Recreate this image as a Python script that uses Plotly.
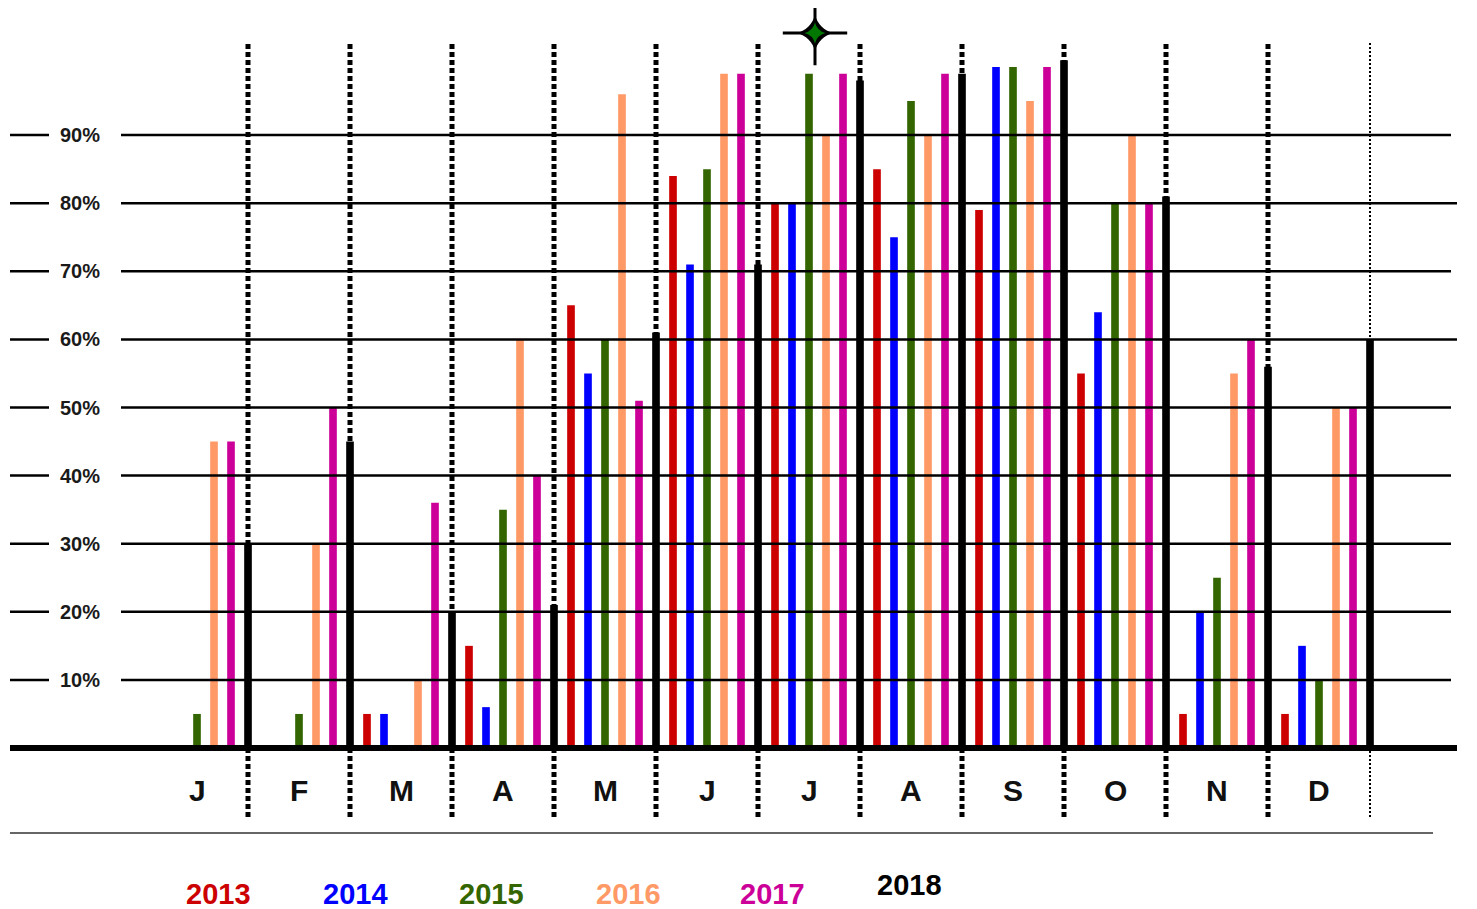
import plotly.graph_objects as go

# ---------------- data ----------------
months = ["J", "F", "M", "A", "M", "J", "J", "A", "S", "O", "N", "D"]
years = ["2013", "2014", "2015", "2016", "2017", "2018"]
colors = ["#cc0000", "#0000ff", "#336600", "#ff9966", "#cc0099", "#000000"]

v2013 = [None, None, 5, 15, 65, 84, 80, 85, 79, 55, 5, 5]
v2014 = [None, None, 5, 6, 55, 71, 80, 75, 100, 64, 20, 15]
v2015 = [5, 5, None, 35, 60, 85, 99, 95, 100, 80, 25, 10]
v2016 = [45, 30, 10, 60, 96, 99, 90, 90, 95, 90, 55, 50]
v2017 = [45, 50, 36, 40, 51, 99, 99, 99, 100, 80, 60, 50]
v2018 = [30, 45, 20, 21, 61, 71, 98, 99, 101, 81, 56, 60]
series = [v2013, v2014, v2015, v2016, v2017, v2018]

grid_values = [10, 20, 30, 40, 50, 60, 70, 80, 90]
grid_labels = ["10%", "20%", "30%", "40%", "50%", "60%", "70%", "80%", "90%"]

# ---------------- pixel helpers (layout only) ----------------
PLOT_TOP, PLOT_BOTTOM = 20, 840

def px_x(p):
    return (p - 163) / 17.0

def px_y(p):
    return (748 - p) / 6.81

def paper_y(p):
    return (PLOT_BOTTOM - p) / (PLOT_BOTTOM - PLOT_TOP)

fig = go.Figure()

for k, (yr, col, vals) in enumerate(zip(years, colors, series)):
    xs = [m * 6 + k for m in range(len(months))]
    fig.add_trace(go.Bar(
        x=xs, y=vals, marker=dict(color=col, line=dict(width=0)),
        width=0.45, name=yr, hoverinfo="skip"))

shapes = []
grid_ends = {60: 1472, 80: 1463}
for v in grid_values:
    shapes.append(dict(type="line", xref="x", yref="y", x0=px_x(10), x1=px_x(49),
                       y0=v, y1=v, line=dict(color="black", width=2.5)))
    shapes.append(dict(type="line", xref="x", yref="y", x0=px_x(121),
                       x1=px_x(grid_ends.get(v, 1451)),
                       y0=v, y1=v, line=dict(color="black", width=2.5)))

for m in range(len(months)):
    xs = m * 6 + 5
    last = (m == len(months) - 1)
    shapes.append(dict(type="line", xref="x", yref="y", x0=xs, x1=xs,
                       y0=px_y(817), y1=px_y(43),
                       line=dict(color="black", width=2 if last else 5,
                                 dash="2px,2px" if last else "5px,3px")))

shapes.append(dict(type="line", xref="x", yref="y", x0=px_x(9), x1=px_x(1458),
                   y0=0, y1=0, line=dict(color="black", width=6)))
shapes.append(dict(type="line", xref="x", yref="y", x0=px_x(10), x1=px_x(1433),
                   y0=px_y(833), y1=px_y(833), line=dict(color="#333333", width=1.5)))

annotations = []
for v, lab in zip(grid_values, grid_labels):
    annotations.append(dict(x=px_x(102), y=v, xref="x", yref="y", text="<b>%s</b>" % lab,
                            showarrow=False, xanchor="right", yanchor="middle",
                            font=dict(family="Liberation Sans", size=20, color="#1a1a1a")))

for m, lab in enumerate(months):
    annotations.append(dict(x=m * 6 + 2.0, y=px_y(790), xref="x", yref="y",
                            text="<b>%s</b>" % lab,
                            showarrow=False, xanchor="center", yanchor="middle",
                            font=dict(family="Liberation Sans", size=30, color="#111111")))

legend_x = [218, 355, 491, 628, 772, 909]
legend_y = [894, 894, 894, 894, 894, 885]
for yr, col, lx, ly in zip(years, colors, legend_x, legend_y):
    annotations.append(dict(x=px_x(lx), y=paper_y(ly), xref="x", yref="paper",
                            text="<b>%s</b>" % yr,
                            showarrow=False, xanchor="center", yanchor="middle",
                            font=dict(family="Liberation Sans", size=29, color=col)))

# four-pointed star ornament at the top
sx, sy = [px_x(815)], [px_y(33)]
fig.add_trace(go.Scatter(x=sx, y=sy, mode="markers",
                         marker=dict(symbol="cross-thin", size=46,
                                     line=dict(color="black", width=3)),
                         hoverinfo="skip", cliponaxis=False))
fig.add_trace(go.Scatter(x=sx, y=sy, mode="markers",
                         marker=dict(symbol="star-diamond", size=26, color="black",
                                     line=dict(width=0)),
                         hoverinfo="skip", cliponaxis=False))
fig.add_trace(go.Scatter(x=sx, y=sy, mode="markers",
                         marker=dict(symbol="star-diamond", size=15, color="#007700",
                                     line=dict(width=0)),
                         hoverinfo="skip", cliponaxis=False))

# page body has an 8px margin; size/margins compensate so the plot area
# lands on pixels x 10..1457, y 20..840
fig.update_layout(
    width=1469, height=901,
    margin=dict(l=2, r=20, t=12, b=69),
    plot_bgcolor="white", paper_bgcolor="white",
    showlegend=False, barmode="overlay",
    xaxis=dict(range=[-9, px_x(1457)], visible=False, fixedrange=True),
    yaxis=dict(range=[px_y(PLOT_BOTTOM), px_y(PLOT_TOP)], visible=False, fixedrange=True),
    shapes=shapes, annotations=annotations,
)

fig.write_html("out.html")
